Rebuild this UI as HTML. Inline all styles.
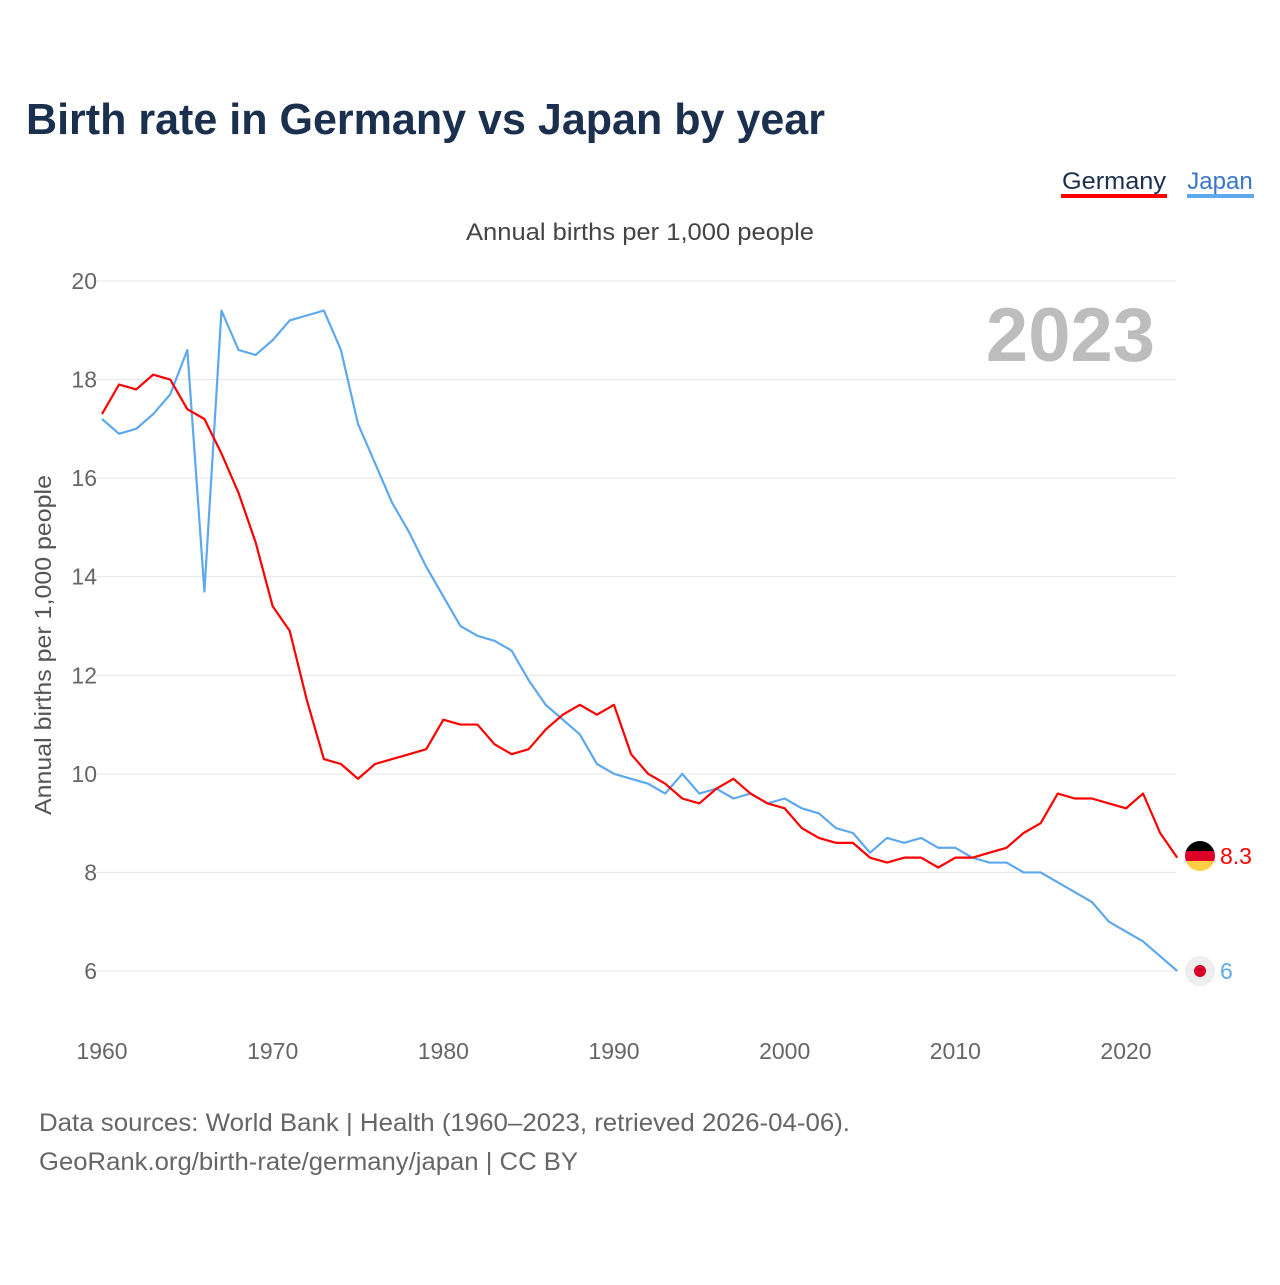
<!DOCTYPE html>
<html><head><meta charset="utf-8"><style>
body{margin:0;background:#fff;font-family:"Liberation Sans",sans-serif;}
svg text{font-family:"Liberation Sans",sans-serif;}
</style></head><body>
<svg width="1280" height="1280" viewBox="0 0 1280 1280" id="chart">
<text x="26" y="134" font-size="44" font-weight="bold" fill="#1b2f4e" textLength="799" lengthAdjust="spacingAndGlyphs">Birth rate in Germany vs Japan by year</text>
<g><text x="1114" y="189" font-size="24" fill="#1b2f4e" text-anchor="middle" textLength="104" lengthAdjust="spacingAndGlyphs">Germany</text><rect x="1061" y="194" width="106" height="4" fill="#ff0000"/></g>
<g><text x="1220" y="189" font-size="24" fill="#3a77c8" text-anchor="middle">Japan</text><rect x="1187" y="194" width="67" height="4" fill="#5ea8ee"/></g>
<text x="466" y="240" font-size="24" fill="#444" textLength="348" lengthAdjust="spacingAndGlyphs">Annual births per 1,000 people</text>
<text x="1155" y="361" font-size="76" font-weight="bold" fill="#bdbdbd" text-anchor="end">2023</text>
<text transform="translate(51,815) rotate(-90)" font-size="23" fill="#555" textLength="340" lengthAdjust="spacingAndGlyphs">Annual births per 1,000 people</text>
<g id="grid"></g><g id="lines"></g>
<g>
<clipPath id="cg"><circle cx="1200" cy="856" r="15"/></clipPath>
<g clip-path="url(#cg)"><rect x="1185" y="841" width="30" height="10" fill="#000"/><rect x="1185" y="851" width="30" height="10" fill="#dd0022"/><rect x="1185" y="861" width="30" height="10" fill="#ffce44"/></g>
<text x="1220" y="864" font-size="23" fill="#ff0000">8.3</text></g>
<g>
<circle cx="1200" cy="971" r="15" fill="#eee"/><circle cx="1200" cy="971" r="6" fill="#d7002a"/>
<text x="1220" y="979" font-size="23" fill="#5ea8ee">6</text></g>
<text x="39" y="1131" font-size="25" fill="#666" textLength="811" lengthAdjust="spacingAndGlyphs">Data sources: World Bank | Health (1960–2023, retrieved 2026-04-06).</text>
<text x="39" y="1170" font-size="25" fill="#666" textLength="539" lengthAdjust="spacingAndGlyphs">GeoRank.org/birth-rate/germany/japan | CC BY</text>
</svg>
<script>
const years=[];for(let y=1960;y<=2023;y++)years.push(y);
const germany=[17.3,17.9,17.8,18.1,18.0,17.4,17.2,16.5,15.7,14.7,13.4,12.9,11.5,10.3,10.2,9.9,10.2,10.3,10.4,10.5,11.1,11.0,11.0,10.6,10.4,10.5,10.9,11.2,11.4,11.2,11.4,10.4,10.0,9.8,9.5,9.4,9.7,9.9,9.6,9.4,9.3,8.9,8.7,8.6,8.6,8.3,8.2,8.3,8.3,8.1,8.3,8.3,8.4,8.5,8.8,9.0,9.6,9.5,9.5,9.4,9.3,9.6,8.8,8.3];
const japan=[17.2,16.9,17.0,17.3,17.7,18.6,13.7,19.4,18.6,18.5,18.8,19.2,19.3,19.4,18.6,17.1,16.3,15.5,14.9,14.2,13.6,13.0,12.8,12.7,12.5,11.9,11.4,11.1,10.8,10.2,10.0,9.9,9.8,9.6,10.0,9.6,9.7,9.5,9.6,9.4,9.5,9.3,9.2,8.9,8.8,8.4,8.7,8.6,8.7,8.5,8.5,8.3,8.2,8.2,8.0,8.0,7.8,7.6,7.4,7.0,6.8,6.6,6.3,6.0];
const yTicks=[6,8,10,12,14,16,18,20];
const xTicks=[1960,1970,1980,1990,2000,2010,2020];
const NS='http://www.w3.org/2000/svg';
const X=y=>102+(y-1960)*1024/60;
const Y=v=>281+(20-v)*690/14;
const grid=document.getElementById('grid'),lines=document.getElementById('lines');
function mk(t,a,p){const e=document.createElementNS(NS,t);for(const k in a)e.setAttribute(k,a[k]);p.appendChild(e);return e;}
yTicks.forEach(v=>{
 const l=mk('line',{x1:96,x2:1176,y1:Y(v),y2:Y(v),stroke:'#e6e6e6','stroke-width':1},grid);
 
 
 const t=mk('text',{x:97,y:Y(v)+8,'font-size':23,fill:'#666','text-anchor':'end'},grid);t.textContent=v;
 
 
});
xTicks.forEach(v=>{
 const t=mk('text',{x:X(v),y:1059,'font-size':23,fill:'#666','text-anchor':'middle'},grid);t.textContent=v;
 
 
});
function line(data,color,name){
 const p=mk('polyline',{points:data.map((v,i)=>X(years[i])+','+Y(v)).join(' '),fill:'none',stroke:color,'stroke-width':2.2,'stroke-linejoin':'round'},lines);
 
 
}
line(japan,'#5ea8ee','japan-line');
line(germany,'#ff0000','germany-line');
</script>
</body></html>
